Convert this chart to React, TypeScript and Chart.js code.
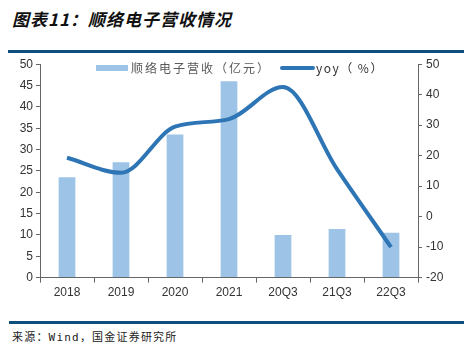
import React, { useEffect, useRef } from "react";
import { Chart, registerables } from "chart.js";

Chart.register(...registerables);

const categories = ["2018", "2019", "2020", "2021", "20Q3", "21Q3", "22Q3"];
const revenue = [23.5, 27, 33.5, 46, 10, 11.4, 10.5];
const yoy = [19.3, 14.4, 29.5, 32, 42.5, 15.6, -10];
const leftTicks = [0, 50, 5];
const rightTicks = [-20, 50, 10];

const barColor = "#9DC3E6";
const lineColor = "#2E75B6";
const ruleColor = "#0E4F7D";
const font = "'Liberation Sans', Arial, sans-serif";

export default function App() {
  const ref = useRef<HTMLCanvasElement>(null);
  useEffect(() => {
    document.body.style.margin = "0";
    const chart = new Chart(ref.current!, {
      type: "bar",
      data: {
        labels: categories,
        datasets: [
          {
            type: "line",
            label: "yoy（%）",
            data: yoy,
            yAxisID: "y1",
            borderColor: lineColor,
            borderWidth: 4,
            pointRadius: 0,
            tension: 0.4,
            cubicInterpolationMode: "monotone",
            order: 0,
          } as any,
          {
            type: "bar",
            label: "顺络电子营收（亿元）",
            data: revenue,
            yAxisID: "y",
            backgroundColor: barColor,
            categoryPercentage: 1,
            barPercentage: 0.31,
            order: 1,
          },
        ],
      },
      options: {
        animation: false,
        responsive: false,
        layout: { padding: { left: 0, right: 0, top: 8, bottom: 0 } },
        plugins: { legend: { display: false }, tooltip: { enabled: false } },
        scales: {
          x: {
            offset: true,
            grid: { drawOnChartArea: false, drawTicks: true, tickLength: 5, color: "#666", offset: true },
            border: { display: true, color: "#666" },
            ticks: { color: "#333", font: { family: font, size: 12 }, padding: 3 },
          },
          y: {
            position: "left",
            min: leftTicks[0],
            max: leftTicks[1],
            afterFit: (s: any) => { s.width = 40; },
            ticks: { stepSize: leftTicks[2], color: "#333", font: { family: font, size: 12 }, padding: 3 },
            grid: { drawOnChartArea: false, drawTicks: true, tickLength: 4, color: "#666" },
            border: { display: true, color: "#666" },
          },
          y1: {
            position: "right",
            min: rightTicks[0],
            max: rightTicks[1],
            afterFit: (s: any) => { s.width = 46; },
            ticks: { stepSize: rightTicks[2], color: "#333", font: { family: font, size: 12 }, padding: 4 },
            grid: { drawOnChartArea: false, drawTicks: true, tickLength: 4, color: "#666" },
            border: { display: true, color: "#666" },
          },
        },
      },
    });
    return () => chart.destroy();
  }, []);

  return (
    <div style={{ position: "absolute", left: 0, top: 0, width: 464, height: 352, background: "#fff", overflow: "hidden" }}>
      <div
        style={{
          position: "absolute", left: 12, top: 6, fontSize: 17, fontWeight: "bold", fontStyle: "italic",
          fontFamily: "'Noto Sans CJK SC', sans-serif", color: "#111", letterSpacing: 1,
        }}
      >
        图表11：顺络电子营收情况
      </div>
      <div style={{ position: "absolute", left: 8, top: 50, width: 456, height: 3, background: ruleColor }} />
      <canvas ref={ref} width={464} height={250} style={{ position: "absolute", left: 0, top: 53 }} />
      <div style={{ position: "absolute", left: 96, top: 65, width: 32, height: 6, background: barColor }} />
      <div style={{ position: "absolute", left: 131, top: 59, fontSize: 12, color: "#595959", fontFamily: "'Noto Sans CJK SC', sans-serif", letterSpacing: 2 }}>
        顺络电子营收（亿元）
      </div>
      <div style={{ position: "absolute", left: 280, top: 66, width: 35, height: 4, borderRadius: 2, background: lineColor }} />
      <div style={{ position: "absolute", left: 316, top: 59, fontSize: 12, color: "#333", fontFamily: "'Noto Sans CJK SC', sans-serif", letterSpacing: 1.5 }}>
        yoy（ %）
      </div>
      <div style={{ position: "absolute", left: 9, top: 321, width: 455, height: 3, background: ruleColor }} />
      <div style={{ position: "absolute", left: 12, top: 328, fontSize: 11, color: "#222", letterSpacing: 1.2, fontFamily: "'DejaVu Sans Mono', 'Noto Sans CJK SC', monospace" }}>
        来源：Wind，国金证券研究所
      </div>
    </div>
  );
}
